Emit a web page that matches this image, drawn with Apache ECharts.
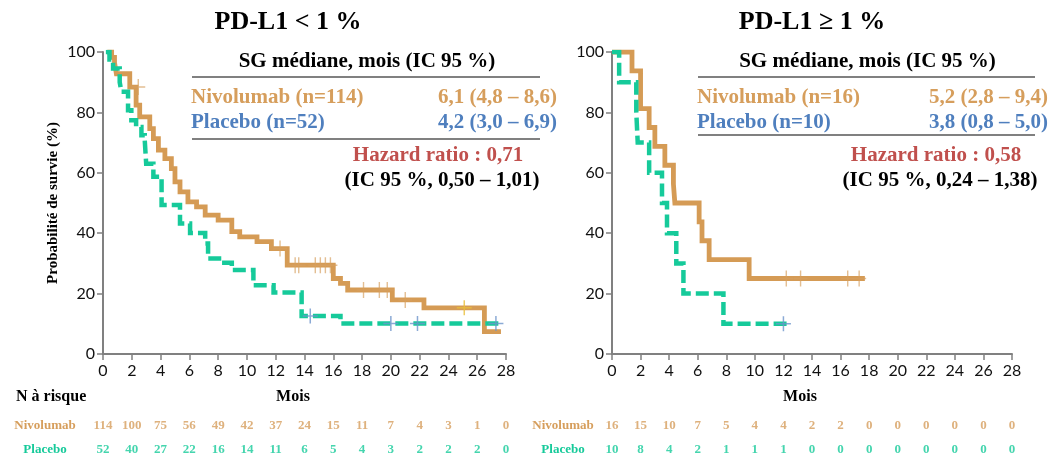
<!DOCTYPE html>
<html>
<head>
<meta charset="utf-8">
<script src="https://cdn.jsdelivr.net/npm/echarts@6/dist/echarts.min.js"></script>
<style>
  html, body { margin: 0; padding: 0; background: #ffffff; }
  #chart { width: 1056px; height: 461px; }
</style>
</head>
<body>
<div id="chart"></div>
<script>
// ---- Data: Kaplan–Meier overall survival by PD-L1 expression ----
// Step points [month, survival %]; the survival value applies from that month on.
const nivoLow = [[0.3,100],[0.6,98.2],[0.8,96.5],[0.93,92.8],[1.86,88.4],[2.3,82.4],[2.55,78.5],[3.25,74.6],[3.5,71.3],[3.85,67.5],[4.3,64.7],[4.75,61.4],[5.0,57.0],[5.35,53.7],[5.9,50.4],[6.5,48.7],[7.1,46.0],[8.0,44.3],[8.95,40.5],[9.5,38.8],[10.7,37.2],[11.7,34.9],[12.8,29.4],[16.0,25.0],[16.5,23.4],[17.0,21.2],[20.1,17.9],[22.3,15.3],[26.5,7.4],[27.65,7.4]];
const placeboLow = [[0.2,100],[0.45,97.5],[0.7,94.5],[1.16,90.0],[1.28,86.8],[1.74,80.7],[1.97,77.4],[2.3,75.2],[2.67,72.4],[2.9,70.8],[3.0,63.0],[3.5,58.7],[4.07,49.3],[5.35,43.2],[6.05,40.1],[7.1,36.6],[7.3,31.6],[8.25,30.2],[8.95,27.8],[10.45,22.8],[11.85,20.4],[13.8,12.6],[16.5,10.1],[27.65,10.1]];
const nivoHigh = [[0,100],[1.4,93.75],[2.0,81.25],[2.6,75.0],[3.0,68.75],[3.7,62.5],[4.3,56.25],[4.4,50.0],[6.1,43.75],[6.3,37.5],[6.8,31.25],[9.6,25.0],[17.7,25.0]];
const placeboHigh = [[0,100],[0.5,90],[1.7,80],[1.8,70],[2.6,60],[3.5,50],[3.85,40],[4.5,30],[5.0,20],[7.8,10],[12.4,10]];

// Censored observations [month, survival %]
const nivoLowCensor = [[2.45,88.4],[12.3,34.9],[13.35,29.4],[13.6,29.4],[14.75,29.4],[15.1,29.4],[15.45,29.4],[15.8,29.4],[18.1,21.2],[19.2,21.2],[19.75,21.2],[21.0,17.9]];
const nivoLowCensorLate = [[25.1,15.3]];
const placeboLowCensor = [[14.4,12.6],[20.0,10.1],[21.85,10.1],[27.3,10.1]];
const nivoHighCensor = [[12.2,25],[13.2,25],[16.5,25],[17.3,25]];
const placeboHighCensor = [[12.0,10]];

// Number at risk every 2 months
const riskMonths = [0,2,4,6,8,10,12,14,16,18,20,22,24,26,28];
const riskNivoLow = [114,100,75,56,49,42,37,24,15,11,7,4,3,1,0];
const riskPlaceboLow = [52,40,27,22,16,14,11,6,5,4,3,2,2,2,0];
const riskNivoHigh = [16,15,10,7,5,4,4,2,2,0,0,0,0,0,0];
const riskPlaceboHigh = [10,8,4,2,1,1,1,0,0,0,0,0,0,0,0];

// Axis tick labels and panel texts
const xTicks = ['0','2','4','6','8','10','12','14','16','18','20','22','24','26','28'];
const yTicks = ['0','20','40','60','80','100'];
const panelTitles = ['PD-L1 < 1 %', 'PD-L1 \u2265 1 %'];
const armLabels = [['Nivolumab (n=114)', 'Placebo (n=52)'], ['Nivolumab (n=16)', 'Placebo (n=10)']];
const medians = [['6,1 (4,8 \u2013 8,6)', '4,2 (3,0 \u2013 6,9)'], ['5,2 (2,8 \u2013 9,4)', '3,8 (0,8 \u2013 5,0)']];
const hazardRatios = ['Hazard ratio : 0,71', 'Hazard ratio : 0,58'];
const hazardCIs = ['(IC 95 %, 0,50 \u2013 1,01)', '(IC 95 %, 0,24 \u2013 1,38)'];
const riskRows = ['Placebo', 'Nivolumab'];

// ---- Styling ----
const ORANGE = '#D59B55';
const ORANGE_TXT = '#D69E5C';
const GREEN = '#16CA9A';
const BLUE = '#4F7FBE';
const BLUE_MARK = '#6E95CB';
const RED = '#C0504D';
const GRAY = '#808080';
const SERIF = '"Liberation Serif", "Times New Roman", serif';
const SANS = 'Lato, "Liberation Sans", sans-serif';

const panels = [
  { left: 103, width: 403, titleX: 288, tableL: 192, tableR: 540, valR: 557, hrX: 442, line2: 139, mois: 293, rowLabelX: 45,
    nivo: nivoLow, placebo: placeboLow, nivoC: nivoLowCensor, nivoCLate: nivoLowCensorLate, placC: placeboLowCensor,
    riskN: riskNivoLow, riskP: riskPlaceboLow },
  { left: 612, width: 400, titleX: 812, tableL: 698, tableR: 1035, valR: 1048, hrX: 940, line2: 135, mois: 800, rowLabelX: 563,
    nivo: nivoHigh, placebo: placeboHigh, nivoC: nivoHighCensor, nivoCLate: [], placC: placeboHighCensor,
    riskN: riskNivoHigh, riskP: riskPlaceboHigh }
];

const PLUS = 'path://M-1,-10 L1,-10 L1,-1 L10,-1 L10,1 L1,1 L1,10 L-1,10 L-1,1 L-10,1 L-10,-1 L-1,-1 Z';
const PLOT_TOP = 52, PLOT_H = 302;
const RISK_TOP = 414, RISK_H = 48;

const grid = [], xAxis = [], yAxis = [], series = [], graphic = [];

panels.forEach((p, i) => {
  const g = grid.length;
  grid.push({ left: p.left, top: PLOT_TOP, width: p.width, height: PLOT_H });
  grid.push({ left: p.left, top: RISK_TOP, width: p.width, height: RISK_H });

  xAxis.push({
    type: 'value', gridIndex: g, min: 0, max: 28, interval: 2,
    axisLine: { show: true, lineStyle: { color: GRAY, width: 2 } },
    axisTick: { show: true, length: 6, lineStyle: { color: GRAY, width: 1.5 } },
    axisLabel: { fontFamily: SANS, fontSize: 16, color: '#111', margin: 9,
      formatter: v => xTicks[Math.round(v / 2)] },
    splitLine: { show: false }
  });
  xAxis.push({ type: 'value', gridIndex: g + 1, min: 0, max: 28, show: false });

  yAxis.push({
    type: 'value', gridIndex: g, min: 0, max: 100, interval: 20,
    name: i === 0 ? 'Probabilit\u00e9 de survie (%)' : '',
    nameLocation: 'middle', nameRotate: 90, nameGap: 42,
    nameTextStyle: { fontFamily: SERIF, fontWeight: 'bold', fontSize: 15, color: '#000' },
    axisLine: { show: true, lineStyle: { color: GRAY, width: 2 } },
    axisTick: { show: true, length: 6, lineStyle: { color: GRAY, width: 1.5 } },
    axisLabel: { fontFamily: SANS, fontSize: 16, color: '#111', margin: 8,
      formatter: v => yTicks[Math.round(v / 20)] },
    splitLine: { show: false }
  });
  yAxis.push({
    type: 'category', gridIndex: g + 1, data: riskRows,
    axisLine: { show: false }, axisTick: { show: false },
    axisLabel: {
      align: 'center', margin: p.left - p.rowLabelX,
      formatter: v => v === 'Nivolumab' ? '{n|' + v + '}' : '{p|' + v + '}',
      rich: {
        n: { fontFamily: SERIF, fontWeight: 'bold', fontSize: 13, color: ORANGE_TXT },
        p: { fontFamily: SERIF, fontWeight: 'bold', fontSize: 13, color: GREEN }
      }
    }
  });

  const xi = g, yi = g;
  series.push({
    type: 'line', xAxisIndex: xi, yAxisIndex: yi, step: 'end', symbol: 'none', z: 2,
    lineStyle: { color: ORANGE, width: 4.8, cap: 'butt', join: 'miter' },
    data: p.nivo, silent: true
  });
  series.push({
    type: 'line', xAxisIndex: xi, yAxisIndex: yi, step: 'end', symbol: 'none', z: 3,
    lineStyle: { color: GREEN, width: 4.5, type: [13, 5], cap: 'butt', join: 'miter' },
    data: p.placebo, silent: true
  });
  series.push({
    type: 'scatter', xAxisIndex: xi, yAxisIndex: yi, symbol: PLUS, symbolSize: [14, 16], z: 4,
    itemStyle: { color: 'rgba(214,160,95,0.85)' }, data: p.nivoC, silent: true
  });
  if (p.nivoCLate.length) {
    series.push({
      type: 'scatter', xAxisIndex: xi, yAxisIndex: yi, symbol: PLUS, symbolSize: [15, 15], z: 5,
      itemStyle: { color: '#E8BE3A' }, data: p.nivoCLate, silent: true
    });
  }
  series.push({
    type: 'scatter', xAxisIndex: xi, yAxisIndex: yi, symbol: PLUS, symbolSize: [15, 15], z: 5,
    itemStyle: { color: BLUE_MARK }, data: p.placC, silent: true
  });

  // Number-at-risk rows, placed on the hidden month axis of the table grid
  const rowSeries = (counts, row, color) => ({
    type: 'scatter', xAxisIndex: g + 1, yAxisIndex: g + 1, symbolSize: 0, silent: true,
    data: riskMonths.map((m, k) => [m, row, counts[k]]),
    label: { show: true, position: 'inside', formatter: d => String(d.value[2]),
      fontFamily: SERIF, fontWeight: 'bold', fontSize: 13, color: color }
  });
  series.push(rowSeries(p.riskN, 'Nivolumab', ORANGE_TXT));
  series.push(rowSeries(p.riskP, 'Placebo', GREEN));

  // Panel title and median OS table
  const txt = (text, x, y, size, fill, align) => ({
    type: 'text', silent: true,
    style: { text, x, y, fill, textAlign: align || 'center', textVerticalAlign: 'middle',
      fontFamily: SERIF, fontWeight: 'bold', fontSize: size }
  });
  graphic.push(txt(panelTitles[i], p.titleX, 22, 26, '#000'));
  graphic.push(txt('SG m\u00e9diane, mois (IC 95 %)', (p.tableL + p.tableR) / 2 + 1, 62, 21, '#000'));
  graphic.push({ type: 'line', silent: true, shape: { x1: p.tableL, y1: 77, x2: p.tableR, y2: 77 },
    style: { stroke: GRAY, lineWidth: 2 } });
  graphic.push(txt(armLabels[i][0], p.tableL - 1, 98, 21, ORANGE_TXT, 'left'));
  graphic.push(txt(medians[i][0], p.valR, 98, 21, ORANGE_TXT, 'right'));
  graphic.push(txt(armLabels[i][1], p.tableL - 1, 123, 21, BLUE, 'left'));
  graphic.push(txt(medians[i][1], p.valR, 123, 21, BLUE, 'right'));
  graphic.push({ type: 'line', silent: true, shape: { x1: p.tableL, y1: p.line2, x2: p.tableR, y2: p.line2 },
    style: { stroke: GRAY, lineWidth: 2 } });
  graphic.push(txt(hazardRatios[i], p.hrX - 4, 156, 21, RED));
  graphic.push(txt(hazardCIs[i], p.hrX, 181, 21, '#000'));
  graphic.push(txt('Mois', p.mois, 397, 16, '#000'));
});

graphic.push({
  type: 'text', silent: true,
  style: { text: 'N \u00e0 risque', x: 16, y: 397, fill: '#000', textAlign: 'left', textVerticalAlign: 'middle',
    fontFamily: SERIF, fontWeight: 'bold', fontSize: 16 }
});

const chart = echarts.init(document.getElementById('chart'), null, { renderer: 'canvas' });
chart.setOption({
  animation: false,
  backgroundColor: '#ffffff',
  grid, xAxis, yAxis, series, graphic
});
</script>
</body>
</html>
